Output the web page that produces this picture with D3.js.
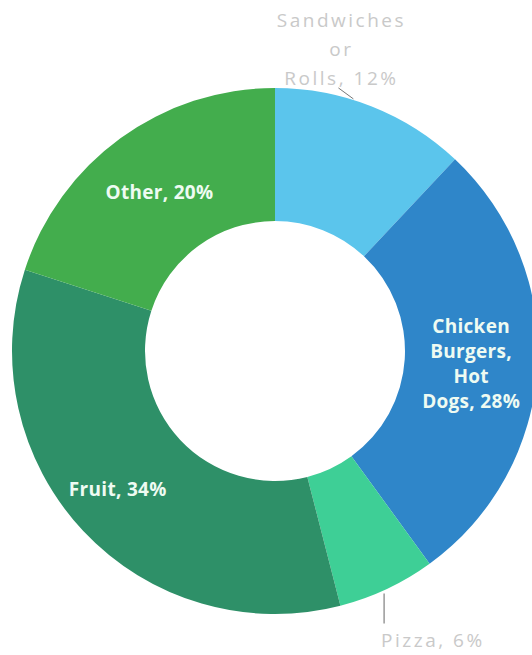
<!DOCTYPE html>
<html>
<head>
<meta charset="utf-8">
<script src="https://cdn.jsdelivr.net/npm/d3@7"></script>
<style>
  body { margin: 0; background: #fff; }
  svg { display: block; }
  .inlabel { font-family: "Open Sans", "Noto Sans", sans-serif; font-weight: 700; font-size: 19px; fill: #eefbf2; letter-spacing: 0.3px; }
  .outlabel { font-family: "Open Sans", "Noto Sans", sans-serif; font-size: 19px; fill: #c9c9c9; letter-spacing: 2.5px; }
</style>
</head>
<body>
<div class="donut-container"></div>
<script>
// data
const categories = ['Sandwiches or Rolls', 'Chicken Burgers, Hot Dogs', 'Pizza', 'Fruit', 'Other']
const shares = [12, 28, 6, 34, 20]
const colors = ['#5bc5ec', '#2f86c9', '#3ecf96', '#2e9068', '#43ad4d']
// label lines (inside = white bold, outside = grey with leader)
const labelLines = [
  ['Sandwiches', 'or', 'Rolls, 12%'],
  ['Chicken', 'Burgers,', 'Hot', 'Dogs, 28%'],
  ['Pizza, 6%'],
  ['Fruit, 34%'],
  ['Other, 20%']
]
const labelInside = [false, true, false, true, true]

const svg_width = 532
const svg_height = 655
const cx = 275
const cy = 351
const outerR = 263
const innerR = 130

// small nudges for inside labels (fruit label sits a bit left of centroid)
const labelNudge = [[0, 0], [0, 1], [0, 0], [-14, 4], [0, 0]]

const data = categories.map((c, i) => ({ name: c, value: shares[i], color: colors[i], lines: labelLines[i], inside: labelInside[i], nudge: labelNudge[i] }))

const svg = d3.select('.donut-container').append('svg')
  .attr('width', svg_width).attr('height', svg_height)
const g = svg.append('g').attr('transform', `translate(${cx}, ${cy})`)

const pie = d3.pie().value(d => d.value).sort(null)
const arc = d3.arc().innerRadius(innerR).outerRadius(outerR)
const arcs = pie(data)

g.selectAll('.slice').data(arcs).join('path')
  .attr('class', 'slice')
  .attr('d', arc)
  .attr('fill', d => d.data.color)

// inside labels at centroid
const lineH = 25
arcs.filter(d => d.data.inside).forEach(d => {
  const [x, y] = arc.centroid(d)
  const n = d.data.lines.length
  const t = g.append('text').attr('class', 'inlabel')
    .attr('text-anchor', 'middle')
    .attr('transform', `translate(${x + d.data.nudge[0]}, ${y + d.data.nudge[1]})`)
  d.data.lines.forEach((l, i) => {
    t.append('tspan').attr('x', 0)
      .attr('y', (i - (n - 1) / 2) * lineH)
      .attr('dy', '0.35em')
      .text(l)
  })
})

// outside labels with leader lines
function pt(angle, r) {
  return [r * Math.sin(angle), -r * Math.cos(angle)]
}

// Sandwiches: leader up-left, stacked text above donut
const sw = arcs[0]
const swA = sw.startAngle + (sw.endAngle - sw.startAngle) * 0.4
const s0 = pt(swA, outerR + 1)
g.append('line')
  .attr('x1', s0[0]).attr('y1', s0[1])
  .attr('x2', s0[0] - 15).attr('y2', s0[1] - 11)
  .attr('stroke', '#777').attr('stroke-width', 1)
const swText = g.append('text').attr('class', 'outlabel').attr('text-anchor', 'middle')
  .attr('transform', `translate(${s0[0] - 12}, ${s0[1] - 14})`)
sw.data.lines.slice().reverse().forEach((l, i) => {
  swText.append('tspan').attr('x', 0).attr('y', -i * 29).text(l)
})

// Pizza: vertical leader down
const pz = arcs[2]
const pzA = (pz.startAngle + pz.endAngle) / 2
const p0 = pt(pzA, outerR + 5)
g.append('line')
  .attr('x1', p0[0] - 5).attr('y1', p0[1])
  .attr('x2', p0[0] - 5).attr('y2', p0[1] + 30)
  .attr('stroke', '#999').attr('stroke-width', 1.5)
g.append('text').attr('class', 'outlabel').attr('text-anchor', 'start')
  .attr('x', p0[0] - 8).attr('y', p0[1] + 54)
  .text(pz.data.lines[0])
</script>
</body>
</html>
